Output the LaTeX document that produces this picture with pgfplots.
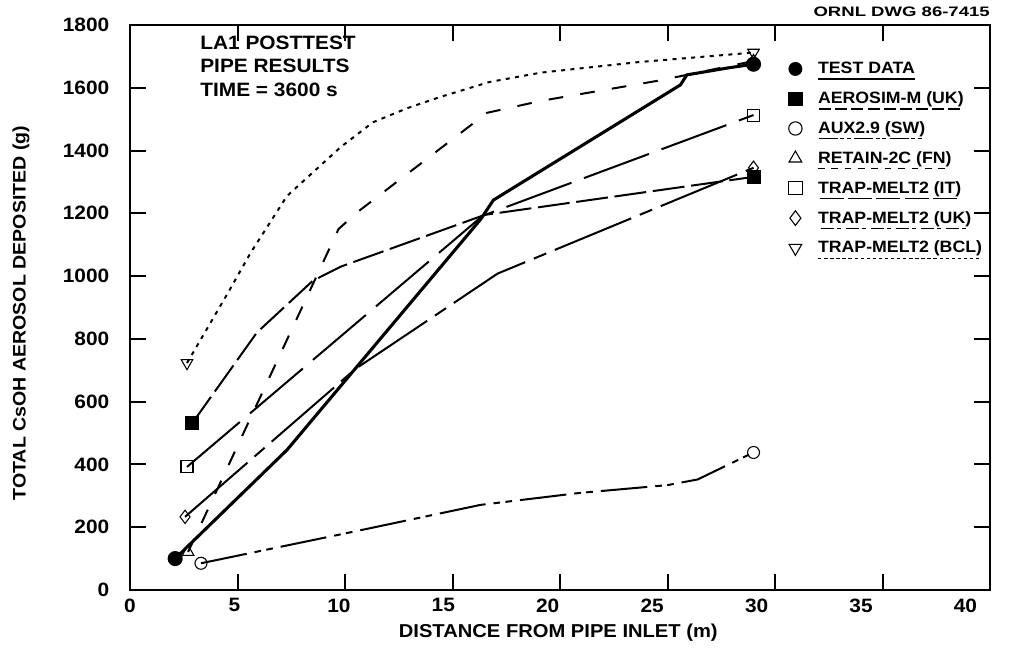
\documentclass[border=0pt]{standalone}
\usepackage{pgfplots}
\pgfplotsset{compat=1.18}
\usepackage{fontspec}
\setmainfont{Liberation Sans}[FakeStretch=1.08]
\newsavebox\ulbox
\newcommand{\ulpat}[2]{\sbox\ulbox{#2}\rlap{\raisebox{-4.5pt}{\hbox to \wd\ulbox{\xleaders\hbox{#1}\hfill}}}\usebox\ulbox}
\begin{document}
\begin{tikzpicture}
\begin{axis}[
  scale only axis, width=645pt, height=423.75pt,
  xmin=0, xmax=40, ymin=0, ymax=1800,
  xtick={0,5,...,40}, ytick={0,200,...,1800},
  tick align=inside, major tick length=12pt,
  every tick/.style={black, line width=1.5pt},
  axis line style={line width=2pt},
  ticklabel style={font=\bfseries\fontsize{14.5}{14.5}\selectfont},
  xticklabel style={yshift=-3pt, xshift={-2.3pt*\ticknum}},
  yticklabel style={xshift=-12pt},
  /pgf/number format/assume math mode=true,
  /pgf/number format/1000 sep={},
  xlabel={DISTANCE FROM PIPE INLET (m)},
  ylabel={TOTAL CsOH AEROSOL DEPOSITED (g)},
  every axis x label/.style={at={(rel axis cs:0.498,-0.076)}, anchor=center, font=\bfseries\fontsize{14}{16}\selectfont},
  every axis y label/.style={at={(rel axis cs:-0.1267,0.49)}, anchor=center, rotate=90, font=\bfseries\fontsize{13.6}{16}\selectfont},
  legend style={draw=none, fill=none, at={(rel axis cs:0.761,0.944)}, anchor=north west,
    row sep=8pt, column sep=10pt, font=\bfseries\fontsize{12.3}{14}\selectfont},
  legend cell align=left,
  clip=false,
]
% legend
\addlegendimage{only marks, mark=*, mark size=5pt, black}
\addlegendentry{\ulpat{\rule{1pt}{1.5pt}}{TEST DATA}}
\addlegendimage{only marks, mark=square*, mark size=5pt, black}
\addlegendentry{\ulpat{\rule{9pt}{0.9pt}\hspace{2pt}}{AEROSIM-M (UK)}}
\addlegendimage{only marks, mark=o, mark size=5pt, black, mark options={line width=0.8pt}}
\addlegendentry{\ulpat{\rule{14pt}{0.9pt}\hspace{2pt}\rule{3pt}{0.9pt}\hspace{2pt}\rule{3pt}{0.9pt}\hspace{2pt}}{AUX2.9 (SW)}}
\addlegendimage{only marks, mark=triangle, mark size=5.5pt, black, mark options={line width=0.8pt}}
\addlegendentry{\ulpat{\rule{5pt}{0.9pt}\hspace{5pt}}{RETAIN-2C (FN)}}
\addlegendimage{only marks, mark=square, mark size=5pt, black, mark options={line width=0.8pt}}
\addlegendentry{\ulpat{\rule{18pt}{0.9pt}\hspace{2pt}}{TRAP-MELT2 (IT)}}
\addlegendimage{only marks, mark=diamond, mark size=5.5pt, black, mark options={line width=0.8pt}}
\addlegendentry{\ulpat{\rule{10pt}{0.9pt}\hspace{2pt}\rule{3pt}{0.9pt}\hspace{2pt}}{TRAP-MELT2 (UK)}}
\addlegendimage{only marks, mark=triangle, mark size=5.5pt, black, mark options={line width=0.8pt, rotate=180}}
\addlegendentry{\ulpat{\rule{2.5pt}{0.9pt}\hspace{2pt}}{TRAP-MELT2 (BCL)}}

% BCL
\addplot[forget plot, black, line width=1.5pt, dash pattern=on 3pt off 4pt,
  mark=triangle, mark size=5pt, mark indices={1,12}, mark options={solid, line width=0.8pt, rotate=180}]
  coordinates {(2.65,723) (4.5,940) (5.6,1073) (7.3,1255) (9.8,1411) (11.3,1490) (12.9,1535) (14.4,1570) (16.7,1618) (19.1,1648) (23.7,1682) (29,1712)};
% RETAIN-2C
\addplot[forget plot, black, line width=1.5pt, dash pattern=on 11pt off 13pt,
  mark=triangle, mark size=5pt, mark indices={1,7}, mark options={solid, line width=0.8pt}]
  coordinates {(2.7,121) (9.7,1150) (10.6,1205) (16.6,1520) (19.1,1558) (24.7,1624) (29,1685)};
% TRAP-MELT2 (IT)
\addplot[forget plot, black, line width=1.5pt, dash pattern=on 52pt off 10pt,
  mark=square, mark size=4.5pt, mark indices={1,3}, mark options={solid, line width=0.8pt, fill=white}]
  coordinates {(2.65,392) (16.4,1192) (29,1513)};
% TRAP-MELT2 (UK)
\addplot[forget plot, black, line width=1.5pt, dash pattern=on 62pt off 7pt on 10pt off 7pt,
  mark=diamond, mark size=5pt, mark indices={1,4}, mark options={solid, line width=0.8pt}]
  coordinates {(2.56,233) (10.5,705) (17.1,1008) (29,1345)};
% AUX2.9 (SW)
\addplot[forget plot, black, line width=1.5pt, dash pattern=on 35pt off 6pt on 5pt off 4pt on 5pt off 6pt,
  mark=o, mark size=4.5pt, mark indices={1,7}, mark options={solid, line width=0.8pt}]
  coordinates {(3.3,85) (10.7,190) (16.3,271) (20.9,309) (25,334) (26.4,352) (29,438)};
% AEROSIM-M (UK)
\addplot[forget plot, black, line width=1.5pt, dash pattern=on 24pt off 5pt,
  mark=square*, mark size=4.5pt, mark indices={1,6}, mark options={solid}]
  coordinates {(2.9,532) (5.9,820) (8.5,985) (9.8,1030) (16.5,1195) (29,1316)};
% TEST DATA
\addplot[forget plot, black, line width=2.3pt,
  mark=*, mark size=4.5pt, mark indices={1,8}, mark options={solid}]
  coordinates {(2.1,100) (7.3,446) (16.3,1180) (16.9,1242) (25.6,1609) (25.9,1641) (27.8,1663) (29,1675)};

\node[anchor=north west, align=left, font=\bfseries\fontsize{14.5}{17.6}\selectfont, inner sep=0pt]
  at (rel axis cs:0.0814,0.981) {LA1 POSTTEST\\PIPE RESULTS\\TIME = 3600 s};
\node[anchor=south east, font=\bfseries\fontsize{10.3}{12}\selectfont\addfontfeatures{FakeStretch=1.35}, inner sep=0pt]
  at (rel axis cs:1,1.014) {ORNL DWG 86-7415};
\coordinate (bl) at (rel axis cs:-0.1512,-0.1221);
\coordinate (tr) at (rel axis cs:1.0221,1.0442);
\end{axis}
\pgfresetboundingbox
\useasboundingbox (bl) rectangle (tr);
\end{tikzpicture}
\end{document}
